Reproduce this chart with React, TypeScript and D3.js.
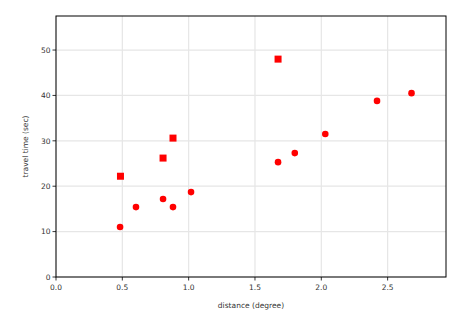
import React from "react";
import * as d3 from "d3";

const circleX = [0.483, 0.603, 0.807, 0.882, 1.018, 1.674, 1.8, 2.03, 2.42, 2.68];
const circleY = [11.0, 15.4, 17.2, 15.4, 18.7, 25.3, 27.3, 31.5, 38.8, 40.5];
const squareX = [0.486, 0.807, 0.882, 1.674];
const squareY = [22.2, 26.2, 30.6, 48.0];
const xTicks = [0, 0.5, 1.0, 1.5, 2.0, 2.5];
const yTicks = [0, 10, 20, 30, 40, 50];

export default function App() {
  const W = 465, H = 315;
  const left = 56, right = 446, top = 16, bottom = 277;
  const x = d3.scaleLinear().domain([0, 2.94]).range([left, right]);
  const y = d3.scaleLinear().domain([0, 57.5]).range([bottom, top]);
  const font = "DejaVu Sans, sans-serif";
  return (
    <svg width={W} height={H} style={{ position: "absolute", left: 0, top: 0 }}>
      <rect x={0} y={0} width={W} height={H} fill="white" />
      {xTicks.map((t) => (
        <line key={"gx" + t} x1={x(t)} x2={x(t)} y1={top} y2={bottom} stroke="#e6e6e6" strokeWidth={1.2} />
      ))}
      {yTicks.map((t) => (
        <line key={"gy" + t} x1={left} x2={right} y1={y(t)} y2={y(t)} stroke="#e6e6e6" strokeWidth={1.2} />
      ))}
      {circleX.map((v, i) => (
        <circle key={"c" + i} cx={x(v)} cy={y(circleY[i])} r={3.3} fill="red" />
      ))}
      {squareX.map((v, i) => (
        <rect key={"s" + i} x={x(v) - 3.5} y={y(squareY[i]) - 3.5} width={7} height={7} fill="red" />
      ))}
      <rect x={left} y={top} width={right - left} height={bottom - top} fill="none" stroke="black" strokeWidth={1} />
      {xTicks.map((t) => (
        <g key={"tx" + t}>
          <line x1={x(t)} x2={x(t)} y1={bottom} y2={bottom + 3.5} stroke="black" strokeWidth={0.8} />
          <text x={x(t)} y={bottom + 13} textAnchor="middle" fontFamily={font} fontSize={7.5} fill="#333">
            {t.toFixed(1)}
          </text>
        </g>
      ))}
      {yTicks.map((t) => (
        <g key={"ty" + t}>
          <line x1={left - 3.5} x2={left} y1={y(t)} y2={y(t)} stroke="black" strokeWidth={0.8} />
          <text x={left - 5.5} y={y(t) + 2.7} textAnchor="end" fontFamily={font} fontSize={7.5} fill="#333">
            {t}
          </text>
        </g>
      ))}
      <text x={(left + right) / 2} y={308} textAnchor="middle" fontFamily={font} fontSize={7.5} fill="#333">
        distance (degree)
      </text>
      <text
        transform={`translate(27.5, ${(top + bottom) / 2}) rotate(-90)`}
        textAnchor="middle"
        fontFamily={font}
        fontSize={7.5}
        fill="#333"
      >
        travel time (sec)
      </text>
    </svg>
  );
}
